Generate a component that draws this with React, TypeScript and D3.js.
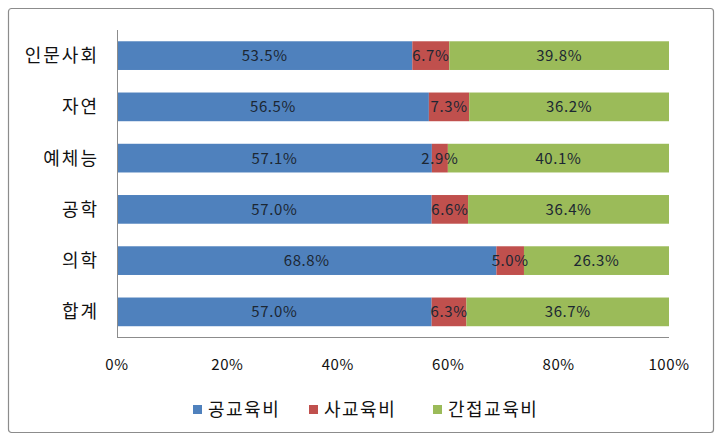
import React from "react";
import * as d3 from "d3";

const categories = ["인문사회", "자연", "예체능", "공학", "의학", "합계"];
const publicEdu = [53.5, 56.5, 57.1, 57.0, 68.8, 57.0];
const privateEdu = [6.7, 7.3, 2.9, 6.6, 5.0, 6.3];
const indirectEdu = [39.8, 36.2, 40.1, 36.4, 26.3, 36.7];
const seriesNames = ["공교육비", "사교육비", "간접교육비"];
const seriesColors = ["#4F81BD", "#C0504D", "#9BBB59"];
const xTicks = [0, 20, 40, 60, 80, 100];

const W = 719;
const H = 443;
const FONT = "'Noto Sans CJK KR', 'Noto Sans', sans-serif";

export default function App() {
  const left = 117;
  const right = 669;
  const top = 30;
  const bottom = 337.5;

  const x = d3.scaleLinear().domain([0, 100]).range([left, right]);
  const y = d3
    .scaleBand<string>()
    .domain(categories)
    .range([top, bottom])
    .paddingInner(0.44)
    .paddingOuter(0.22);

  const rows = categories.map((c, i) => {
    const vals = [publicEdu[i], privateEdu[i], indirectEdu[i]];
    const total = d3.sum(vals);
    return { cat: c, vals, total };
  });

  const stack = d3
    .stack<{ cat: string; vals: number[]; total: number }, number>()
    .keys([0, 1, 2])
    .value((d, k) => (d.vals[k] / d.total) * 100);
  const stacked = stack(rows);

  const legendX = [193, 309, 433];

  return (
    <svg
      width={W}
      height={H}
      style={{ position: "absolute", left: 0, top: 0, background: "#fff" }}
      fontFamily={FONT}
    >
      <rect x={8.5} y={8.5} width={705} height={424} rx={3} fill="#fff" stroke="#8c8c8c" strokeWidth={1.2} />
      {stacked.map((layer, si) =>
        layer.map((seg, ci) => {
          const x0 = x(seg[0]);
          const x1 = x(seg[1]);
          const yy = y(categories[ci])!;
          return (
            <rect key={`${si}-${ci}`} x={x0} y={yy} width={x1 - x0} height={y.bandwidth()} fill={seriesColors[si]} />
          );
        })
      )}
      {stacked.map((layer, si) =>
        layer.map((seg, ci) => {
          const x0 = x(seg[0]);
          const x1 = x(seg[1]);
          const yy = y(categories[ci])! + y.bandwidth() / 2;
          return (
            <text
              key={`t${si}-${ci}`}
              x={(x0 + x1) / 2}
              y={yy}
              dy="0.36em"
              textAnchor="middle"
              fontSize={15}
              letterSpacing={0.6}
              fill="#1c2733"
            >
              {rows[ci].vals[si].toFixed(1)}%
            </text>
          );
        })
      )}
      <line x1={left + 0.5} x2={left + 0.5} y1={top} y2={bottom} stroke="#8c8c8c" />
      <line x1={left} x2={right} y1={bottom} y2={bottom} stroke="#8c8c8c" />
      {categories.map((c) => (
        <text
          key={c}
          x={99}
          y={y(c)! + y.bandwidth() / 2}
          dy="0.36em"
          textAnchor="end"
          fontSize={18}
          letterSpacing={2}
          fill="#111"
        >
          {c}
        </text>
      ))}
      {xTicks.map((t) => (
        <text key={t} x={x(t)} y={365} dy="0.36em" textAnchor="middle" fontSize={15} letterSpacing={0.6} fill="#111">
          {t}%
        </text>
      ))}
      {seriesNames.map((n, i) => (
        <g key={n}>
          <rect x={legendX[i]} y={405} width={9} height={9} fill={seriesColors[i]} />
          <text x={legendX[i] + 15} y={410} dy="0.36em" fontSize={18} letterSpacing={1.5} fill="#111">
            {n}
          </text>
        </g>
      ))}
    </svg>
  );
}
